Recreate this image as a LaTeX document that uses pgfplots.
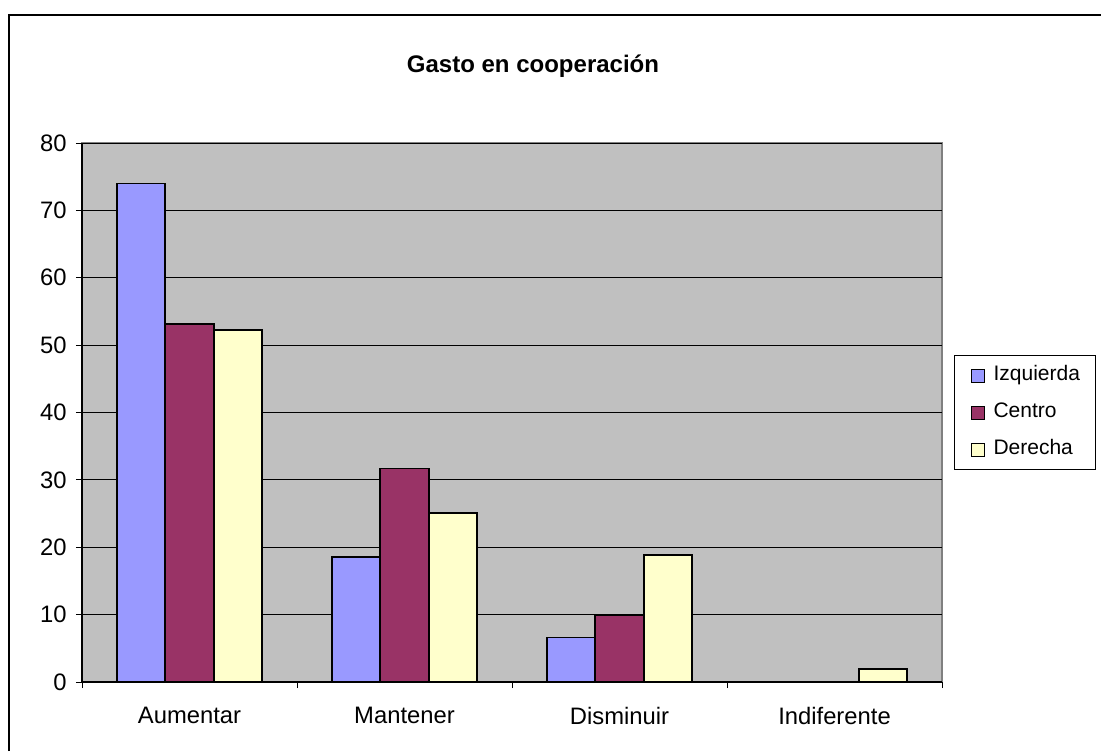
\documentclass[border=0pt]{standalone}
\usepackage{pgfplots}
\pgfplotsset{compat=1.18}
\usepackage{fontspec}
\setmainfont{Liberation Sans}
\definecolor{izq}{HTML}{9999FF}
\definecolor{cen}{HTML}{993366}
\definecolor{der}{HTML}{FFFFCC}
\definecolor{plotbg}{HTML}{C0C0C0}
\definecolor{plotedge}{HTML}{808080}
\begin{document}
\begin{tikzpicture}
\useasboundingbox (0,0) rectangle (550.5pt,-375.5pt);
% marco exterior (solo arriba e izquierda, recortado)
\draw[line width=0.8pt] (4.5pt,-375.5pt) -- (4.5pt,-7.5pt) -- (550.5pt,-7.5pt);
\node[anchor=base, font=\fontsize{12}{14}\selectfont\bfseries] at (266.5pt,-36pt) {Gasto en cooperación};
\begin{axis}[
    at={(41pt,-341pt)}, anchor=south west,
    scale only axis, width=430pt, height=269.5pt,
    ybar=0pt, bar width=24.15pt,
    xmin=-0.5, xmax=3.5, ymin=0, ymax=80,
    xtick={-0.5,0.5,1.5,2.5,3.5},
    xticklabels={Aumentar,Mantener,Disminuir,Indiferente},
    x tick label as interval,
    ytick={0,10,...,80},
    axis x line*=bottom, axis y line*=left,
    axis line style={black, line width=0.6pt, -},
    tick align=outside, major tick length=3pt,
    tick style={black, line width=0.5pt},
    ymajorgrids, grid style={black, line width=0.5pt},
    axis background/.style={fill=plotbg, draw=plotedge, line width=0.8pt},
    ticklabel style={font=\fontsize{11.9}{14}\selectfont},
    xticklabel style={yshift=-6pt},
    yticklabel style={xshift=-1.2pt},
    /pgf/number format/assume math mode=true,
    legend style={at={(1.014,0.6067)}, anchor=north west, draw=black,
        line width=0.5pt, fill=white, font=\fontsize{10.5}{12}\selectfont,
        inner xsep=8pt, inner ysep=5pt, row sep=8.5pt, column sep=0pt,
        nodes={inner sep=0pt, text height=7.6pt, text depth=2.4pt}},
    legend cell align=left,
    legend image code/.code={\draw[#1, line width=0.5pt] (0pt,-3.25pt) rectangle (6.5pt,3.25pt);},
    every axis plot/.append style={draw=black, line width=0.9pt},
]
\addplot[fill=izq] coordinates {(0,74.0) (1,18.5) (2,6.6)};
\addplot[fill=cen] coordinates {(0,53.1) (1,31.7) (2,10.0)};
\addplot[fill=der] coordinates {(0,52.3) (1,25.1) (2,18.8) (3,1.9)};
\legend{\hspace{4.5pt}Izquierda\hspace{10pt},\hspace{4.5pt}Centro,\hspace{4.5pt}Derecha}
\end{axis}
\end{tikzpicture}
\end{document}
